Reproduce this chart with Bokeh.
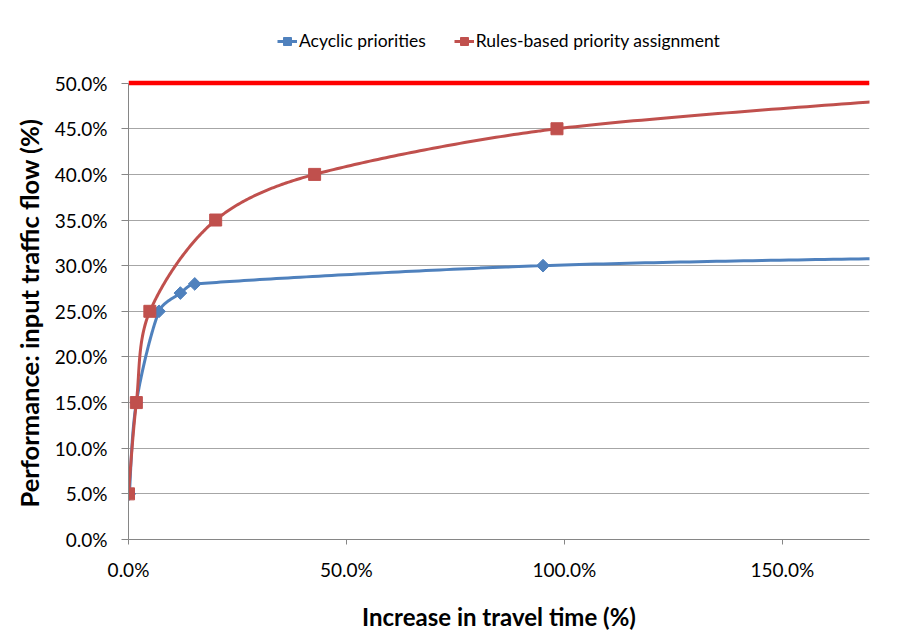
import numpy as np
from bokeh.plotting import figure
from bokeh.models import Legend, LegendItem, NumeralTickFormatter, FixedTicker, Range1d, Title
from bokeh.embed import file_html
from bokeh.resources import INLINE

# ---- data ----
acyclic_x = [0.002, 0.018, 0.070, 0.119, 0.152, 0.951, 2.00]
acyclic_y = [0.05, 0.15, 0.25, 0.27, 0.28, 0.30, 0.31]
rules_x = [0.000, 0.018, 0.049, 0.200, 0.427, 0.983, 2.00]
rules_y = [0.05, 0.15, 0.25, 0.35, 0.40, 0.45, 0.49]
upper_bound = 0.50
x_max = 1.70
x_ticks = [0.0, 0.5, 1.0, 1.5]
y_ticks = [0.0, 0.05, 0.10, 0.15, 0.20, 0.25, 0.30, 0.35, 0.40, 0.45, 0.50]
series_names = ["Acyclic priorities", "Rules-based priority assignment"]
x_title = "Increase in travel time (%)"
y_title = "Performance: input traffic flow (%)"

FONT = "Lato"
BLUE = "#4F81BD"
RED = "#C0504D"


def smooth(xs, ys, kx=435.9, ky=918.0, n=60):
    """Excel-like smoothed line (Bezier with tangent length limited to the segment)."""
    P = np.column_stack([np.asarray(xs, float) * kx, np.asarray(ys, float) * ky])
    out = [P[0]]
    t = np.linspace(0, 1, n)[1:, None]

    def tangent(i, seg_len):
        a = P[i - 1] if i > 0 else P[i]
        b = P[i + 1] if i + 1 < len(P) else P[i]
        d = b - a
        L = np.hypot(*d)
        if L == 0:
            return np.zeros(2)
        return d / L * min(L / 6.0, seg_len / 3.0)

    for i in range(len(P) - 1):
        p1 = P[i]
        p2 = P[i + 1]
        seg = np.hypot(*(p2 - p1))
        c1 = p1 + tangent(i, seg)
        c2 = p2 - tangent(i + 1, seg)
        s = (1 - t) ** 3 * p1 + 3 * (1 - t) ** 2 * t * c1 + 3 * (1 - t) * t ** 2 * c2 + t ** 3 * p2
        out.extend(s)
    out = np.array(out)
    return out[:, 0] / kx, out[:, 1] / ky


# frame spans from the legend row down to 0 %, axis drawn only up to 50 %
p = figure(width=895, height=633, output_backend="svg", toolbar_location=None,
           x_range=Range1d(0, x_max), y_range=Range1d(0, 0.5686),
           min_border_left=128, min_border_right=26, min_border_top=20, min_border_bottom=91)
p.outline_line_color = None
p.background_fill_color = "white"
p.border_fill_color = "white"

# grid
p.xgrid.visible = False
p.ygrid.grid_line_color = "#A6A6A6"
p.ygrid.grid_line_width = 1

# axes
for ax in (p.xaxis[0], p.yaxis[0]):
    ax.axis_line_color = "#868686"
    ax.major_tick_line_color = "#868686"
    ax.minor_tick_line_color = None
    ax.major_tick_in = 0
    ax.major_label_text_font = FONT
    ax.major_label_text_font_size = "19px"
    ax.major_label_text_color = "#000000"
    ax.axis_label_text_font = FONT
    ax.axis_label_text_font_size = "24px"
    ax.axis_label_text_font_style = "bold"
    ax.axis_label_text_color = "#000000"

p.xaxis.ticker = FixedTicker(ticks=x_ticks)
p.yaxis.ticker = FixedTicker(ticks=y_ticks)
p.yaxis.bounds = (0, upper_bound)
p.xaxis.formatter = NumeralTickFormatter(format="0.0%")
p.yaxis.formatter = NumeralTickFormatter(format="0.0%")
p.xaxis.major_tick_out = 5
p.yaxis.major_tick_out = 7
p.xaxis.major_label_standoff = 13
p.yaxis.major_label_standoff = 14
p.xaxis.axis_label = x_title
p.xaxis.axis_label_standoff = 18

# y title centred on the 0-50 % axis span, not on the whole frame
p.add_layout(Title(text=y_title, align="left", offset=32, text_font=FONT,
                   text_font_size="25.5px", text_font_style="bold", text_color="#000000",
                   standoff=16), "left")

# upper bound line
p.line([0, x_max], [upper_bound, upper_bound], line_color="#FF0000", line_width=4.5)

# series
bx, by = smooth(acyclic_x, acyclic_y)
rx, ry = smooth(rules_x, rules_y)
bl = p.line(bx, by, line_color=BLUE, line_width=3)
bm = p.scatter(acyclic_x, acyclic_y, marker="square", angle=np.pi / 4, size=9,
               fill_color=BLUE, line_color=BLUE)
rl = p.line(rx, ry, line_color=RED, line_width=3)
rm = p.scatter(rules_x, rules_y, marker="square", size=12, fill_color=RED, line_color=RED)

legend = Legend(items=[LegendItem(label=series_names[0], renderers=[bl, bm]),
                       LegendItem(label=series_names[1], renderers=[rl, rm])],
                orientation="horizontal", location=(149, 488),
                glyph_width=20, glyph_height=20, label_standoff=2, spacing=28,
                padding=0, margin=0, border_line_color=None, background_fill_alpha=0,
                label_text_font=FONT, label_text_font_size="17.5px", label_text_color="#000000")
p.add_layout(legend, "center")

open("out.html", "w").write(file_html(p, INLINE))
